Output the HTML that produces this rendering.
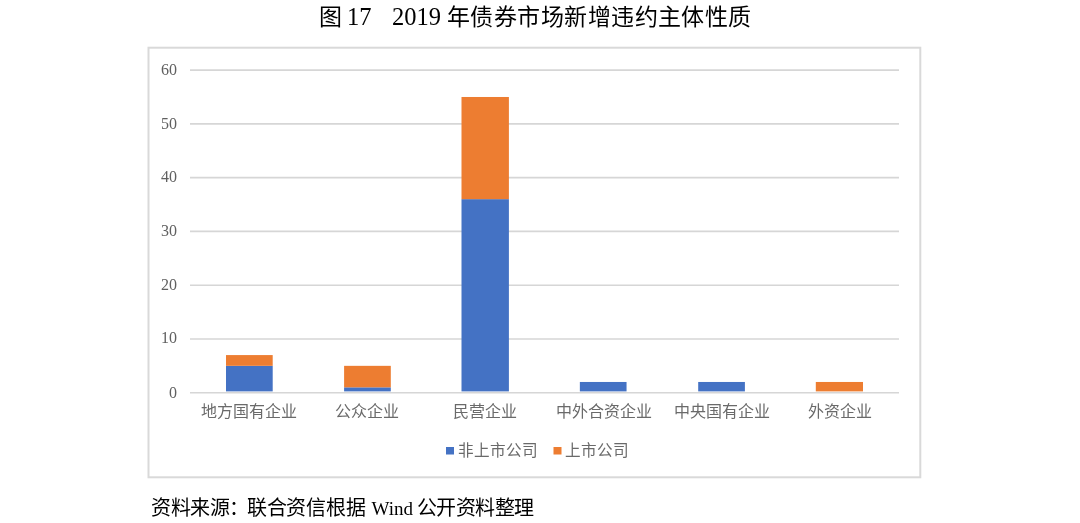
<!DOCTYPE html>
<html lang="zh-CN">
<head>
<meta charset="utf-8">
<style>
html,body{margin:0;padding:0;background:#fff;}
body{width:1080px;height:523px;position:relative;overflow:hidden;filter:blur(0.45px);}
.t{position:absolute;white-space:nowrap;line-height:1;}
.title{font-family:"Liberation Serif",serif;font-size:23px;color:#000;top:5.5px;}
.titled{font-family:"Liberation Serif",serif;font-size:24.5px;color:#000;top:5.2px;}
.src{font-family:"Liberation Serif",serif;font-size:20px;color:#000;top:498px;}
.src2{font-family:"Liberation Serif",serif;font-size:19px;color:#000;top:498.6px;}
.yl{font-family:"Liberation Serif",serif;font-size:16px;color:#606060;width:40px;text-align:right;left:137px;}
.cl{font-family:"Liberation Sans",sans-serif;font-size:16px;color:#6a6a6a;width:160px;text-align:center;top:404px;}
.lg{font-family:"Liberation Sans",sans-serif;font-size:15.6px;color:#6a6a6a;top:442.5px;}
svg{position:absolute;left:0;top:0;}
</style>
</head>
<body>
<svg width="1080" height="523" viewBox="0 0 1080 523">
  <rect x="148.5" y="47.7" width="771.8" height="429.6" fill="none" stroke="#d9d9d9" stroke-width="2"/>
  <g stroke="#d6d6d6" stroke-width="1.6">
    <line x1="190" y1="70.10" x2="899" y2="70.10"/>
    <line x1="190" y1="123.87" x2="899" y2="123.87"/>
    <line x1="190" y1="177.64" x2="899" y2="177.64"/>
    <line x1="190" y1="231.41" x2="899" y2="231.41"/>
    <line x1="190" y1="285.18" x2="899" y2="285.18"/>
    <line x1="190" y1="338.95" x2="899" y2="338.95"/>
    <line x1="190" y1="392.72" x2="899" y2="392.72"/>
  </g>
  <g>
    <rect x="226.00" y="365.84" width="46.7" height="25.56" fill="#4472c4"/>
    <rect x="226.00" y="355.08" width="46.7" height="10.75" fill="#ed7d31"/>
    <rect x="344.10" y="387.34" width="46.7" height="4.06" fill="#4472c4"/>
    <rect x="344.10" y="365.84" width="46.7" height="21.51" fill="#ed7d31"/>
    <rect x="461.50" y="199.15" width="47.4" height="192.25" fill="#4472c4"/>
    <rect x="461.50" y="96.99" width="47.4" height="102.16" fill="#ed7d31"/>
    <rect x="579.85" y="381.97" width="46.7" height="9.43" fill="#4472c4"/>
    <rect x="698.20" y="381.97" width="46.7" height="9.43" fill="#4472c4"/>
    <rect x="815.80" y="381.97" width="47.2" height="9.43" fill="#ed7d31"/>
  </g>
  <rect x="446" y="447" width="8" height="7.5" fill="#4472c4"/>
  <rect x="553.5" y="447" width="8" height="7.5" fill="#ed7d31"/>
</svg>

<div class="t title" style="left:319px">图</div>
<div class="t titled" style="left:347px">17</div>
<div class="t titled" style="left:392px">2019</div>
<div class="t title" style="left:447px;letter-spacing:0.45px">年债券市场新增违约主体性质</div>

<div class="t yl" style="top:62px">60</div>
<div class="t yl" style="top:116px">50</div>
<div class="t yl" style="top:169px">40</div>
<div class="t yl" style="top:223px">30</div>
<div class="t yl" style="top:277px">20</div>
<div class="t yl" style="top:330px">10</div>
<div class="t yl" style="top:385px">0</div>

<div class="t cl" style="left:169px">地方国有企业</div>
<div class="t cl" style="left:287px">公众企业</div>
<div class="t cl" style="left:405px">民营企业</div>
<div class="t cl" style="left:524px">中外合资企业</div>
<div class="t cl" style="left:642px">中央国有企业</div>
<div class="t cl" style="left:760px">外资企业</div>

<div class="t lg" style="left:458px">非上市公司</div>
<div class="t lg" style="left:565px">上市公司</div>

<div class="t src" style="left:151px;letter-spacing:-0.4px">资料来源：</div>
<div class="t src" style="left:247px;letter-spacing:-0.3px">联合资信根据</div>
<div class="t src2" style="left:371.5px">Wind</div>
<div class="t src" style="left:417px;letter-spacing:-0.6px">公开资料整理</div>
</body>
</html>
